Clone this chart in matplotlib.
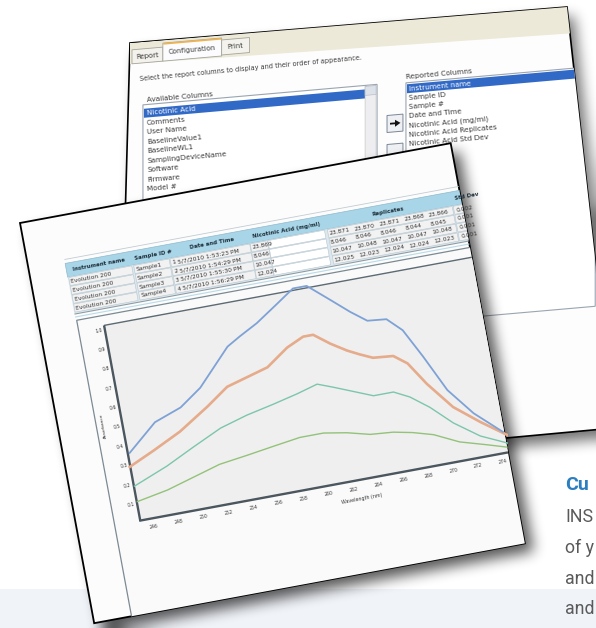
import numpy as np
import matplotlib
matplotlib.use('Agg')
import matplotlib.pyplot as plt
from matplotlib.patches import Polygon, Rectangle
from matplotlib.path import Path
from matplotlib.transforms import Affine2D

W, H = 596, 628

# Spectra (wavelength in nm, absorbance)
wl_blue = [245.2, 247.6, 249.8, 251.6, 254.3, 255.4, 256.9, 258.8, 260.2, 261.3,
           262.9, 264.3, 265.5, 267.0, 268.1, 269.3, 270.7, 272.4, 274.4]
abs_blue = [0.36, 0.49, 0.54, 0.62, 0.80, 0.84, 0.89, 0.97, 1.03, 1.03,
            0.94, 0.86, 0.80, 0.79, 0.72, 0.57, 0.38, 0.24, 0.12]
wl_orange = [245.0, 247.1, 249.4, 251.9, 253.7, 255.4, 257.1, 258.9, 260.3, 261.1,
             262.3, 263.5, 264.4, 265.4, 267.0, 268.0, 269.2, 270.9, 272.8, 274.7]
abs_orange = [0.29, 0.35, 0.42, 0.52, 0.60, 0.63, 0.66, 0.74, 0.78, 0.78,
              0.72, 0.67, 0.64, 0.61, 0.60, 0.55, 0.43, 0.29, 0.19, 0.10]
wl_teal = [245.1, 247.9, 250.2, 252.6, 254.8, 257.0, 259.0, 260.7, 261.9,
           263.4, 264.9, 266.5, 267.7, 269.1, 270.7, 272.6, 274.6]
abs_teal = [0.19, 0.26, 0.33, 0.40, 0.44, 0.47, 0.50, 0.53, 0.50,
            0.46, 0.42, 0.42, 0.38, 0.31, 0.21, 0.12, 0.06]
wl_green = [245.1, 247.6, 249.8, 252.0, 254.3, 256.4, 258.6, 260.5,
            262.3, 264.1, 265.9, 267.4, 269.0, 270.9, 273.0, 274.5]
abs_green = [0.11, 0.14, 0.18, 0.22, 0.24, 0.26, 0.28, 0.28,
             0.26, 0.23, 0.22, 0.20, 0.17, 0.11, 0.07, 0.04]

x_ticks = list(range(246, 276, 2))
y_ticks = [0.1, 0.2, 0.3, 0.4, 0.5, 0.6, 0.7, 0.8, 0.9, 1.0]

# Report table
headers = ['Instrument name', 'Sample ID #', 'Date and Time', 'Nicotinic Acid (mg/ml)', 'Replicates', 'Std Dev']
instruments = ['Evolution 200'] * 4
samples = ['Sample1', 'Sample2', 'Sample3', 'Sample4']
sample_no = ['1', '2', '3', '4']
times = ['5/7/2010 1:53:23 PM', '5/7/2010 1:54:29 PM', '5/7/2010 1:55:30 PM', '5/7/2010 1:56:29 PM']
nicotinic = ['23.869', '8.046', '10.047', '12.024']
replicates = [['23.871', '23.870', '23.871', '23.868', '23.866'],
              ['8.046', '8.046', '8.046', '8.044', '8.045'],
              ['10.047', '10.048', '10.047', '10.047', '10.048'],
              ['12.025', '12.023', '12.024', '12.024', '12.023']]
std_dev = ['0.002', '0.001', '0.001', '0.001']

# Configuration dialog
tabs = ['Report', 'Configuration', 'Print']
available_cols = ['Nicotinic Acid', 'Comments', 'User Name', 'BaselineValue1', 'BaselineWL1',
                  'SamplingDeviceName', 'Software', 'Firmware', 'Model #']
reported_cols = ['Instrument name', 'Sample ID', 'Sample #', 'Date and Time',
                 'Nicotinic Acid (mg/ml)', 'Nicotinic Acid Replicates', 'Nicotinic Acid Std Dev']

# brochure text, as much as shows at the right edge
side_lines = ['Cu', 'INS', 'of y', 'and', 'and']


def box_blur(a, r):
    k = 2 * r + 1
    c = np.cumsum(np.pad(a, ((r + 1, r), (0, 0)), mode='edge'), axis=0)
    a = (c[k:] - c[:-k]) / k
    c = np.cumsum(np.pad(a, ((0, 0), (r + 1, r)), mode='edge'), axis=1)
    return (c[:, k:] - c[:, :-k]) / k


fig = plt.figure(figsize=(W / 100, H / 100), dpi=100)
ax = fig.add_axes([0, 0, 1, 1])

yy, xx = np.mgrid[0:H, 0:W]
grid = np.column_stack([xx.ravel() + 0.5, yy.ravel() + 0.5])


def shadow(pts, dx, dy, r, alpha, z):
    m = Path(np.asarray(pts) + [dx, dy]).contains_points(grid).reshape(H, W).astype(float)
    for _ in range(3):
        m = box_blur(m, r)
    img = np.zeros((H, W, 4))
    img[..., 3] = m * alpha
    ax.imshow(img, extent=(0, W, H, 0), origin='upper', interpolation='bilinear',
              zorder=z, aspect='auto')


# page band
ax.add_patch(Rectangle((0, 589), W, H - 589, fc='#f0f3f8', ec='none', zorder=0))

# ---------------- back panel (configuration dialog) ----------------
back_pts = np.array([(130, 43), (567, 7), (614, 428), (118, 474)], dtype=float)
shadow(back_pts, 7, 9, 6, 0.55, 1)
back_face = Polygon(back_pts, closed=True, fc='#fdfdfd', ec='black', lw=1.2, zorder=2)
ax.add_patch(back_face)
TB = Affine2D(np.array([[0.9962, 0, 130.0], [-0.0872, 1, 43.0], [0, 0, 1]])) + ax.transData


def bpatch(p, z=3):
    p.set_transform(TB)
    p.set_zorder(z)
    ax.add_patch(p)
    p.set_clip_path(back_face)


def btext(u, v, t, size=5.2, color='#3a3a3a', rot=5, **kw):
    tx = ax.text(u, v, t, transform=TB, fontsize=size, color=color, rotation=rot,
                 rotation_mode='anchor', va='center', ha=kw.pop('ha', 'left'), zorder=4, **kw)
    tx.set_clip_path(back_face)


bpatch(Polygon([(0, 0), (445, 0), (445, 29), (0, 21)], fc='#ece9d8', ec='none'))
tab_boxes = [(2, 7, 31, 14), (33, 3, 59, 18), (92, 5, 28, 15)]
for i, (name, (u, v, w, h)) in enumerate(zip(tabs, tab_boxes)):
    sel = i == 1
    bpatch(Rectangle((u, v), w, h, fc='#fcfcfe' if sel else '#f3f2ec', ec='#a5a49a', lw=0.6))
    if sel:
        bpatch(Rectangle((u + 0.5, v), w - 1, 1.6, fc='#f0b24a', ec='none'), z=3.5)
    btext(u + w / 2, v + h / 2 + 0.5, name, size=5, ha='center')

btext(10, 37, 'Select the report columns to display and their order of appearance.', size=4.7, rot=5.5)
btext(17, 58, 'Available Columns')
bpatch(Rectangle((13, 63), 235, 200, fc='white', ec='#9aa5b1', lw=0.8))
bpatch(Rectangle((14, 67), 222, 9, fc='#3169c6', ec='none'), z=3.2)
bpatch(Rectangle((236, 64), 11, 199, fc='#eeeef0', ec='#c8c8c8', lw=0.5), z=3.2)
bpatch(Rectangle((236, 64), 11, 9, fc='#dde2ea', ec='#b8bec8', lw=0.5), z=3.3)
for i, name in enumerate(available_cols):
    btext(17, 71.5 + i * 9.5, name, color='white' if i == 0 else '#3a3a3a')

btext(277, 58, 'Reported Columns')
bpatch(Rectangle((277, 64), 190, 240, fc='white', ec='#9aa5b1', lw=0.8))
bpatch(Rectangle((278, 65.5), 190, 9, fc='#3169c6', ec='none'), z=3.2)
for i, name in enumerate(reported_cols):
    btext(280, 70 + i * 9.3, name, color='white' if i == 0 else '#3a3a3a')

for v0 in (95, 124):
    bpatch(Rectangle((258, v0), 16, 17, fc='#eef0f4', ec='#7a8796', lw=0.7))
bpatch(Polygon([(261, 102.6), (266, 102.6), (266, 100), (271.5, 103.5), (266, 107),
                (266, 104.4), (261, 104.4)], fc='#111111', ec='none'), z=3.5)

# ---------------- front panel (report with spectra) ----------------
th = np.radians(10.5)
c, s = np.cos(th), np.sin(th)
front_M = Affine2D(np.array([[c, s, 20.0], [-s, c, 223.0], [0, 0, 1]]))
PW, PH = 438, 407
front_pts = front_M.transform([(0, 0), (PW, 0), (PW, PH), (0, PH)])
shadow(front_pts, 9, 8, 6, 0.65, 4.5)
front_face = Polygon(front_pts, closed=True, fc='#fcfcfc', ec='black', lw=1.3, zorder=5)
ax.add_patch(front_face)
TF = front_M + ax.transData
ROT = 10.5


def fpatch(p, z=6):
    p.set_transform(TF)
    p.set_zorder(z)
    ax.add_patch(p)
    p.set_clip_path(front_face)


def fline(us, vs, color, lw, z=7):
    ln, = ax.plot(us, vs, transform=TF, color=color, lw=lw, zorder=z, solid_capstyle='butt')
    ln.set_clip_path(front_face)


def ftext(u, v, t, size=4.3, color='#333333', rot=ROT, **kw):
    tx = ax.text(u, v, t, transform=TF, fontsize=size, color=color, rotation=rot,
                 rotation_mode='anchor', va=kw.pop('va', 'center'), ha=kw.pop('ha', 'left'),
                 zorder=8, **kw)
    tx.set_clip_path(front_face)


# table
fline([37, 480], [44, 44], '#c2ccd2', 0.6)
fpatch(Rectangle((37, 48), 450, 14, fc='#a8d5e7', ec='#8fb9cb', lw=0.5))
fpatch(Rectangle((37, 62), 450, 37, fc='#dce8ee', ec='none'))
header_u = [70, 125, 185, 261, 364, 432]
for u, t in zip(header_u, headers):
    ftext(u, 55.5, t, size=4, color='#1f2f3a', ha='left' if t == 'Std Dev' else 'center',
          fontweight='bold')
cells = [(38, 102), (104, 140), (141, 222), (222.5, 240), (240.5, 298), (301, 428), (429, 487)]
for i in range(4):
    v0 = 62.5 + i * 9
    for j, (a, b) in enumerate(cells):
        fpatch(Rectangle((a, v0), b - a, 8.2, fc='white' if j == 4 else '#f2f2f2',
                         ec='#b7c6cf', lw=0.4))
    vc = v0 + 4.3
    ftext(39.5, vc, instruments[i])
    ftext(105.5, vc, samples[i])
    ftext(142.5, vc, sample_no[i])
    ftext(148, vc, times[i])
    ftext(223.5, vc, nicotinic[i])
    for k, val in enumerate(replicates[i]):
        ftext(302 + k * 25.3, vc, val)
    ftext(431, vc, std_dev[i])
fline([37, 487], [99.5, 99.5], '#8e9ba4', 0.8)
fline([37, 487], [102.5, 102.5], '#b9dbe8', 0.8)

# chart frame and plot area
fpatch(Rectangle((38, 106), 460, 330, fc='#fafafa', ec='#7d8a93', lw=0.9))
fpatch(Rectangle((64, 116), 440, 198, fc='#efefef', ec='none'), z=6.2)
fline([64, 504], [116, 116], '#5d6a73', 1.0, z=6.4)
fline([64, 64], [116, 315], '#4b565e', 1.7, z=6.4)
fline([63, 504], [314.5, 314.5], '#4b565e', 1.7, z=6.4)

data_M = Affine2D().translate(-245.05, -1.0).scale(12.7, -197).translate(64, 120)
TD = data_M + front_M + ax.transData
plot_clip = Rectangle((64, 104), PW - 64, 210, transform=front_M + ax.transData)
series = [(wl_green, abs_green, '#93c27a', 1.0),
          (wl_teal, abs_teal, '#7cc6aa', 1.0),
          (wl_orange, abs_orange, '#e5ab8a', 1.9),
          (wl_blue, abs_blue, '#7ea2d6', 1.3)]
for wl, ab, col, lw in series:
    ln, = ax.plot(wl, ab, transform=TD, color=col, lw=lw, zorder=6.6, solid_joinstyle='round')
    ln.set_clip_path(plot_clip)

for t in x_ticks:
    u = data_M.transform((t, 0))[0]
    ftext(u, 322.5, str(t), size=3.3, ha='center')
for t in y_ticks:
    v = data_M.transform((245, t))[1]
    ftext(61.5, v, f'{t:.1f}', size=3.3, ha='right')
ftext(286, 333, 'Wavelength (nm)', size=3.4, ha='center')
ftext(45, 215, 'Absorbance', size=3.1, ha='center', rot=ROT + 90)

# ---------------- right-hand text column ----------------
side_y = [490, 522, 553, 584, 614]
for i, (t, y) in enumerate(zip(side_lines, side_y)):
    ax.text(565, y, t, fontsize=14 if i == 0 else 12.8, family='Roboto', va='baseline',
            ha='left', zorder=9, color='#2b7fc1' if i == 0 else '#5a5a5a',
            fontweight='bold' if i == 0 else 'normal')

ax.set_xlim(0, W)
ax.set_ylim(H, 0)
ax.axis('off')
fig.savefig('out.png', dpi=100)
